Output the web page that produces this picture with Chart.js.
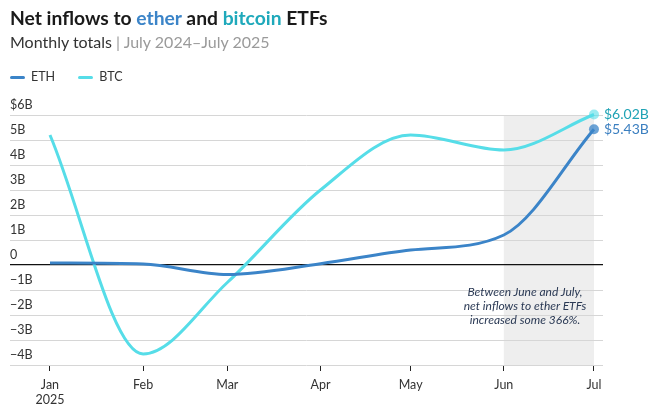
<!DOCTYPE html>
<html lang="en">
<head>
    <meta charset="UTF-8">
    <title>Net inflows to ether and bitcoin ETFs</title>
    <script src="https://cdn.jsdelivr.net/npm/chart.js"></script>
    <style>
        body { margin: 0; background: #fff; font-family: Lato, "Open Sans", sans-serif; }
        #wrap { position: relative; width: 661px; height: 417px; overflow: hidden; }
        #title { position: absolute; left: 10px; top: 6px; font-size: 19.3px; font-weight: 700; color: #1a1a1a; white-space: nowrap; }
        #title .eth { color: #3b84c8; }
        #title .btc { color: #1fa9bb; }
        #sub { position: absolute; left: 10px; top: 32px; font-size: 16px; color: #333; white-space: nowrap; }
        #sub .grey { color: #9a9a9a; }
        #legend { position: absolute; left: 10px; top: 69px; font-size: 12.5px; color: #333; }
        #legend span.item { display: inline-block; margin-right: 20px; }
        #legend i { display: inline-block; width: 15px; height: 3px; border-radius: 2px; vertical-align: middle; margin-right: 6px; }
        #note { position: absolute; left: 445px; top: 285px; width: 160px; text-align: center; font-size: 12px; font-style: italic; line-height: 14px; color: #2b3a55; }
        canvas { position: absolute; left: 0; top: 0; }
    </style>
</head>
<body>
<div id="wrap">
    <canvas id="chart1" width="661" height="417"></canvas>
    <div id="title">Net inflows to <span class="eth">ether</span> and <span class="btc">bitcoin</span> ETFs</div>
    <div id="sub">Monthly totals <span class="grey">| July 2024–July 2025</span></div>
    <div id="legend">
        <span class="item"><i style="background:#3b84c8"></i>ETH</span>
        <span class="item"><i style="background:#56dde8"></i>BTC</span>
    </div>
    <div id="note">Between June and July,<br>net inflows to ether ETFs<br>increased some 366%.</div>
</div>

<script>
    // months as day offsets from Jan 1 2025
    var meses = ['Jan', 'Feb', 'Mar', 'Apr', 'May', 'Jun', 'Jul'];
    var dias = [0, 31, 59, 90, 120, 151, 181];
    var eth = [0.08, 0.04, -0.38, 0.05, 0.6, 1.2, 5.43];
    var btc = [5.2, -3.56, -0.7, 3.0, 5.2, 4.6, 6.02];
    var yTicks = [-4, -3, -2, -1, 0, 1, 2, 3, 4, 5, 6];
    var finLabels = ['$5.43B', '$6.02B'];

    function puntos(vals) {
        var out = [];
        for (var i = 0; i < vals.length; i++) out.push({ x: dias[i], y: vals[i] });
        return out;
    }

    function yLabel(v) {
        if (v === 0) return '0';
        if (v === 6) return '$6B';
        return (v < 0 ? '\u2212' + Math.abs(v) : v) + 'B';
    }

    var sombra = {
        id: 'sombra',
        beforeDraw: function (chart) {
            var ctx = chart.ctx, a = chart.chartArea, x = chart.scales.x;
            ctx.save();
            ctx.fillStyle = '#eeeeee';
            var x1 = x.getPixelForValue(dias[5]), x2 = x.getPixelForValue(dias[6]);
            ctx.fillRect(x1, a.top, x2 - x1, a.bottom - a.top);
            ctx.restore();
        }
    };

    var etiquetas = {
        id: 'etiquetas',
        afterDatasetsDraw: function (chart) {
            var ctx = chart.ctx;
            var colores = ['#3b7fc0', '#1fa3b5'];
            ctx.save();
            ctx.font = '14px Lato, sans-serif';
            ctx.textBaseline = 'middle';
            ctx.textAlign = 'left';
            for (var d = 0; d < 2; d++) {
                var meta = chart.getDatasetMeta(d);
                var p = meta.data[meta.data.length - 1];
                ctx.fillStyle = colores[d];
                ctx.fillText(finLabels[d], p.x + 10, p.y);
            }
            ctx.restore();
        }
    };

    var ctx = document.getElementById('chart1').getContext('2d');
    var chart = new Chart(ctx, {
        type: 'line',
        data: {
            datasets: [{
                label: 'ETH',
                data: puntos(eth),
                borderColor: '#3b84c8',
                backgroundColor: 'rgba(59,132,200,0.75)',
                borderWidth: 3,
                cubicInterpolationMode: 'monotone',
                pointRadius: [0, 0, 0, 0, 0, 0, 5],
                pointBorderWidth: 0,
                pointHoverRadius: 0,
                clip: false
            }, {
                label: 'BTC',
                data: puntos(btc),
                borderColor: '#56dde8',
                backgroundColor: 'rgba(86,221,232,0.6)',
                borderWidth: 3,
                cubicInterpolationMode: 'monotone',
                pointRadius: [0, 0, 0, 0, 0, 0, 5],
                pointBorderWidth: 0,
                pointHoverRadius: 0,
                clip: false
            }]
        },
        options: {
            responsive: false,
            animation: false,
            events: [],
            layout: { padding: { top: 115, left: 10, right: 58, bottom: 0 } },
            plugins: { legend: { display: false }, tooltip: { enabled: false } },
            scales: {
                x: {
                    type: 'linear',
                    min: -13.3,
                    max: 184,
                    afterBuildTicks: function (s) {
                        s.ticks = dias.map(function (d) { return { value: d }; });
                    },
                    afterFit: function (s) { s.height = 52; },
                    ticks: {
                        autoSkip: false,
                        maxRotation: 0,
                        padding: 6,
                        color: '#333',
                        font: { family: 'Lato', size: 12.5 },
                        callback: function (v) {
                            var i = dias.indexOf(v);
                            return i === 0 ? ['Jan', '2025'] : meses[i];
                        }
                    },
                    grid: { drawOnChartArea: false, drawTicks: true, tickLength: 6, color: '#222', lineWidth: 1 },
                    border: { display: false }
                },
                y: {
                    min: -4,
                    max: 6,
                    afterBuildTicks: function (s) {
                        s.ticks = yTicks.map(function (v) { return { value: v }; });
                    },
                    ticks: {
                        mirror: true,
                        padding: 0,
                        labelOffset: -10,
                        color: '#333',
                        font: { family: 'Lato', size: 12.5 },
                        callback: function (v) { return yLabel(v); }
                    },
                    grid: {
                        drawTicks: false,
                        color: function (c) { return c.tick && c.tick.value === 0 ? '#111' : '#d6d6d6'; },
                        lineWidth: function (c) { return c.tick && c.tick.value === 0 ? 1.2 : 1; }
                    },
                    border: { display: false }
                }
            }
        },
        plugins: [sombra, etiquetas]
    });
</script>
</body>
</html>
